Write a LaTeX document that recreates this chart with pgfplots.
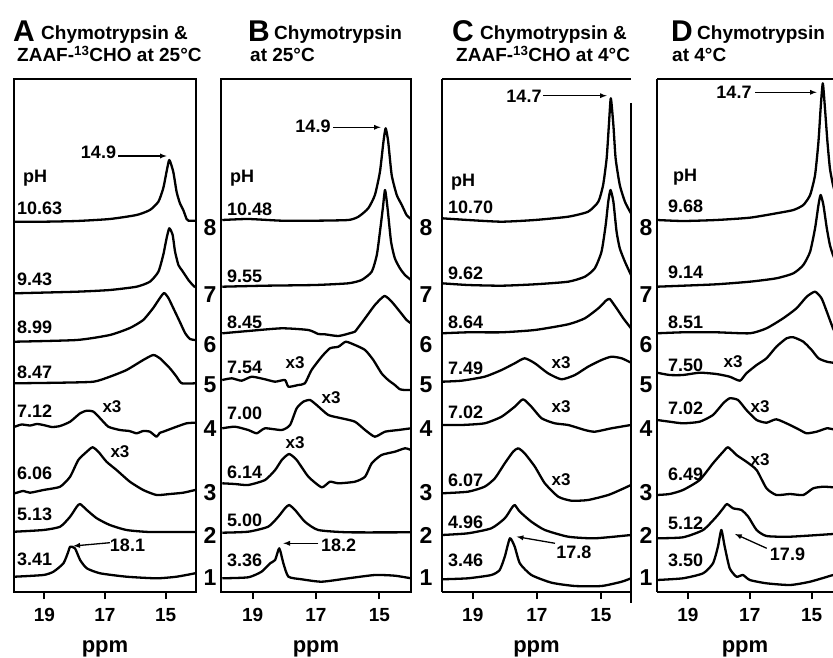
\documentclass[border=0pt]{standalone}
\usepackage{fontspec}
\setmainfont{Liberation Sans}
\usepackage{pgfplots}
\pgfplotsset{compat=1.18}

\newcommand\fs[1]{\fontsize{#1}{#1}\selectfont\bfseries}

\pgfplotsset{
  nmr/.style={
    scale only axis, height=513pt,
    x dir=reverse, y dir=reverse,
    ymin=79, ymax=592, ytick=\empty,
    xtick={15,17,19}, xtick pos=left, xtick align=outside,
    major tick length=7pt,
    axis line style={line width=2pt},
    every tick/.style={black, line width=2pt},
    xticklabel style={font=\fs{19}, yshift=-6pt},
    /pgf/number format/assume math mode=true,
    xlabel={ppm}, xlabel style={font=\fs{22}, yshift=-12pt},
  },
  tr/.style={black, line width=2.3pt, line join=round, smooth, tension=0.35},
}

\begin{document}
\begin{tikzpicture}[x=1pt,y=1pt]
\useasboundingbox (0,0) rectangle (833,658);

% ---------------- A ----------------
\begin{axis}[nmr, at={(14pt,66pt)}, anchor=south west, width=182pt, xmin=14, xmax=20]
\addplot[tr] coordinates {(19.97,221.7)(19.03,221.7)(17.93,221)(16.84,219)(15.96,215)(15.52,210)(15.24,201.7)(15.08,188.3)(14.97,171.7)(14.88,160)(14.75,171.7)(14.64,191.7)(14.53,203.3)(14.42,210)(14.31,219)(14.25,220.7)(14.03,220.7)};
\addplot[tr] coordinates {(19.97,293.3)(17.93,291.7)(16.84,290)(15.96,286.7)(15.52,281.7)(15.24,271.7)(15.08,255)(14.97,238.3)(14.88,228.3)(14.77,235)(14.69,251.7)(14.58,265)(14.47,270)(14.36,275)(14.25,280)(14.11,285)(14.03,287.3)};
\addplot[tr] coordinates {(19.97,341.7)(17.93,340)(16.84,335)(16.18,328)(15.74,320)(15.41,308)(15.19,298)(15.05,293)(14.91,298)(14.75,308)(14.53,322)(14.36,333)(14.20,339)(14.03,340)};
\addplot[tr] coordinates {(19.97,383.3)(18.48,382.7)(17.38,381.7)(16.84,376.7)(16.29,370)(15.74,360)(15.41,355)(15.19,358.3)(14.86,368.3)(14.64,376.7)(14.47,383.3)(14.03,383.3)};
\addplot[tr] coordinates {(19.97,426.7)(19.75,424.5)(19.47,425.5)(19.25,424)(19.03,425)(18.75,427)(18.48,426)(18.15,421.7)(17.82,413.3)(17.60,410.7)(17.38,411.7)(17.16,418.3)(16.89,426.7)(16.51,430)(16.2,431)(15.96,433.3)(15.74,431)(15.52,431.7)(15.30,436.7)(15.2,433)(15.08,431.7)(14.64,426.7)(14.31,423.3)(14.03,422.7)};
\addplot[tr] coordinates {(19.97,493.3)(19.7,491)(19.47,492.7)(19.03,490)(18.48,486.7)(18.15,476.7)(17.88,460)(17.60,451.7)(17.41,447.3)(17.22,451.7)(16.95,461.7)(16.62,470)(16.18,481.7)(15.74,490)(15.30,495)(14.86,494)(14.42,492.7)(14.03,490)};
\addplot[tr] coordinates {(19.97,531.7)(19.03,530)(18.48,526.7)(18.15,516.7)(17.93,506.7)(17.82,504)(17.60,510)(17.27,518.3)(16.84,525)(16.29,530)(15.52,532)(14.03,532)};
\addplot[tr] coordinates {(19.97,576.7)(19.03,575)(18.70,571.7)(18.37,563.3)(18.21,551.7)(18.15,546.7)(17.99,548.3)(17.82,560)(17.60,568.3)(17.16,573.3)(16.29,576.7)(15.30,578.3)(14.64,576.7)(14.03,573.3)};
\end{axis}

% ---------------- B ----------------
\begin{axis}[nmr, at={(221pt,66pt)}, anchor=south west, width=190pt, xmin=14, xmax=20]
\addplot[tr] coordinates {(19.96,220)(19.14,219)(18.08,220.7)(17.03,220.7)(15.98,220)(15.66,216.7)(15.35,208.3)(15.14,195)(14.98,171.7)(14.87,141.7)(14.80,128.3)(14.72,141.7)(14.61,175)(14.45,195)(14.29,205)(14.14,215)(14.00,219)};
\addplot[tr] coordinates {(19.96,286.7)(18.61,285.7)(17.03,285)(15.98,283.3)(15.56,280)(15.24,271.7)(15.08,255)(14.98,231.7)(14.89,208.3)(14.82,190)(14.74,208.3)(14.63,241.7)(14.51,258.3)(14.35,268.3)(14.19,275)(14.00,280)};
\addplot[tr] coordinates {(19.96,333.3)(19.14,331)(18.08,328.3)(17.24,330)(16.93,334)(16.72,334.3)(16.29,336)(15.87,332.7)(15.77,331.7)(15.45,318.3)(15.14,305)(14.84,296)(14.61,301.7)(14.35,311.7)(14.14,320)(14.00,323.3)};
\addplot[tr] coordinates {(19.96,380)(19.66,378.3)(19.35,380.7)(19.03,376.7)(18.61,379.3)(18.29,381.7)(17.98,380)(17.87,386.7)(17.56,385)(17.35,383.3)(17.14,370)(16.82,356.7)(16.56,348.3)(16.29,346.7)(16.06,341.7)(15.77,345)(15.45,350)(15.19,360)(14.93,373.3)(14.72,380)(14.51,385)(14.35,389.3)(14.19,390)(14.00,390)};
\addplot[tr] coordinates {(19.96,428.3)(19.56,426.7)(19.14,430)(18.87,433.3)(18.61,428.3)(18.08,430)(17.82,425)(17.61,408.3)(17.40,401.7)(17.19,400)(16.98,405)(16.61,415)(16.19,418.3)(15.77,421.7)(15.45,430)(15.14,436.7)(14.82,431.7)(14.40,430)(14.00,428.3)};
\addplot[tr] coordinates {(19.96,483.3)(19.56,484)(19.14,485)(18.61,480)(18.29,470)(18.08,460)(17.85,454)(17.61,460)(17.24,476.7)(16.82,487.3)(16.56,481.7)(16.29,483.3)(15.77,481.7)(15.45,476.7)(15.24,463.3)(14.93,455)(14.51,451.7)(14.19,448.3)(14.00,450)};
\addplot[tr] coordinates {(19.96,532.7)(19.14,531.7)(18.51,526.7)(18.19,516.7)(17.98,508.3)(17.85,505)(17.66,510)(17.35,521.7)(16.93,530)(15.98,532.3)(14.00,532.3)};
\addplot[tr] coordinates {(19.96,578.3)(19.14,577.3)(18.72,571.7)(18.45,563.3)(18.29,560)(18.16,548.3)(18.03,563.3)(17.87,576.7)(17.45,579.3)(16.82,581.7)(15.98,578.3)(15.14,575)(14.51,575.7)(14.00,578.3)};
\end{axis}

% ---------------- C ----------------
\begin{axis}[nmr, axis y line*=left, at={(442pt,66pt)}, anchor=south west, width=189pt, xmin=14.06, xmax=19.96]
\addplot[tr] coordinates {(19.96,218.3)(19.15,220)(18.10,221.7)(17.06,220)(16.02,216.7)(15.40,211.7)(15.08,201.7)(14.93,185)(14.82,158.3)(14.75,125)(14.69,98.3)(14.61,125)(14.54,158.3)(14.41,185)(14.25,201.7)(14.09,211.7)(14.06,213.3)};
\addplot[tr] coordinates {(19.96,283.3)(19.15,285)(18.10,285.7)(17.06,284.3)(16.02,281.7)(15.50,276.7)(15.19,268.3)(14.98,251.7)(14.85,225)(14.77,201.7)(14.70,190)(14.61,201.7)(14.51,231.7)(14.41,248.3)(14.25,261.7)(14.06,275)};
\addplot[tr] coordinates {(19.96,333.3)(19.15,332.3)(18.10,332.3)(17.06,330)(16.02,324.3)(15.50,318.3)(15.08,308.3)(14.82,300)(14.72,299)(14.67,301)(14.51,308.3)(14.30,318.3)(14.06,328.3)};
\addplot[tr] coordinates {(19.96,381.7)(19.35,380.7)(18.63,376.7)(18.10,370)(17.69,363.3)(17.38,358.3)(17.06,363.3)(16.65,373.3)(16.23,379.3)(15.81,375)(15.40,366.7)(14.98,360)(14.67,356.7)(14.35,358.3)(14.06,362.7)};
\addplot[tr] coordinates {(19.96,425)(19.35,425)(18.63,423.3)(18.10,416.7)(17.69,406.7)(17.43,399.3)(17.17,406.7)(16.85,418.3)(16.44,423.3)(16.02,425)(15.50,430)(15.19,431.7)(14.67,428.3)(14.06,425)};
\addplot[tr] coordinates {(19.96,493.3)(19.15,491.7)(18.63,486.7)(18.31,478.3)(18.00,463.3)(17.74,451.7)(17.58,448.3)(17.38,453.3)(17.06,466.7)(16.75,483.3)(16.33,496.7)(15.92,500.7)(15.40,500)(14.77,495)(14.35,489.3)(14.06,485)};
\addplot[tr] coordinates {(19.96,535)(19.15,533.3)(18.42,528.3)(18.00,518.3)(17.79,508.3)(17.69,505)(17.53,511.7)(17.17,521.7)(16.75,530)(16.02,536.7)(15.19,538.3)(14.06,535)};
\addplot[tr] coordinates {(19.96,579.3)(19.15,578.3)(18.42,575)(18.16,570)(18.00,556.7)(17.84,538.3)(17.69,546.7)(17.53,563.3)(17.17,575)(16.54,582.7)(15.81,586)(14.98,586)(14.35,581.7)(14.06,578.3)};
\end{axis}
\draw[line width=2pt] (631,555) -- (631,55);

% ---------------- D ----------------
\begin{axis}[nmr, axis y line*=left, at={(657pt,66pt)}, anchor=south west, width=176pt, xmin=14.31, xmax=20]
\addplot[tr] coordinates {(20.0,220)(19.16,221)(18.08,220)(17.00,217.7)(16.14,213.3)(15.59,210)(15.27,205)(15.05,195)(14.89,175)(14.78,141.7)(14.71,108.3)(14.64,83.3)(14.57,108.3)(14.49,141.7)(14.41,168.3)(14.31,185)(14.2,197)};
\addplot[tr] coordinates {(20.0,286.7)(19.16,285.7)(18.08,284.3)(17.00,281.7)(16.14,278.3)(15.59,273.3)(15.27,265)(15.05,251.7)(14.89,228.3)(14.78,205)(14.71,195)(14.62,205)(14.51,228.3)(14.41,245)(14.31,255)(14.2,262)};
\addplot[tr] coordinates {(20.0,333.3)(19.16,332.3)(18.08,332.3)(17.00,333.3)(16.46,328.3)(15.92,318.3)(15.49,308.3)(15.16,296.7)(14.89,291.7)(14.68,298.3)(14.51,311.7)(14.31,328.3)(14.2,335)};
\addplot[tr] coordinates {(20.0,372.7)(19.59,375)(19.16,375)(18.62,372.7)(18.08,374)(17.65,376.7)(17.32,380.7)(17.11,373.3)(16.78,365)(16.46,358.3)(16.14,346.7)(15.81,338.3)(15.59,337.3)(15.27,341.7)(15.00,350)(14.78,358.3)(14.51,361.7)(14.31,362.7)};
\addplot[tr] coordinates {(20.0,420)(19.59,421.7)(19.16,423.3)(18.62,421.7)(18.19,415)(17.86,403.3)(17.65,398.3)(17.38,400)(17.11,410)(16.78,420)(16.46,422.7)(16.14,419.3)(15.70,425)(15.38,430)(15.16,433.3)(14.84,431.7)(14.51,428.3)(14.31,429.3)};
\addplot[tr] coordinates {(20.0,495)(19.59,494)(19.16,490)(18.62,480)(18.19,463.3)(17.86,451.7)(17.70,447.3)(17.43,455)(17.11,461.7)(16.78,470)(16.46,488.3)(16.14,495)(15.70,494)(15.27,495)(14.95,488.3)(14.62,486.7)(14.31,487.3)};
\addplot[tr] coordinates {(20.0,538.3)(19.16,537.3)(18.51,530)(18.08,516.7)(17.86,508.3)(17.74,504)(17.54,508.3)(17.27,510)(17.05,516.7)(16.78,530)(16.46,536)(15.70,536.7)(14.31,534)};
\addplot[tr] coordinates {(20.0,580)(19.16,578.3)(18.51,573.3)(18.19,563.3)(18.03,546.7)(17.92,530)(17.81,546.7)(17.65,568.3)(17.43,576.7)(17.22,575)(17.00,580)(16.46,583.3)(15.70,585)(15.05,581.7)(14.31,575)};
\end{axis}

% ---------------- titles ----------------
\begin{scope}[every node/.style={inner sep=0pt, anchor=base west}]
\node[font=\fs{30}] at (13,616) {A};
\node[font=\fs{19}] at (41,618) {Chymotrypsin \&};
\node[font=\fs{19}] at (17,596) {ZAAF-\textsuperscript{13}CHO at 25°C};
\node[font=\fs{30}] at (248,616) {B};
\node[font=\fs{19}] at (274,618) {Chymotrypsin};
\node[font=\fs{19}] at (250,596) {at 25°C};
\node[font=\fs{30}] at (452,616) {C};
\node[font=\fs{19}] at (480,618) {Chymotrypsin \&};
\node[font=\fs{19}] at (456,596) {ZAAF-\textsuperscript{13}CHO at 4°C};
\node[font=\fs{30}] at (671,616) {D};
\node[font=\fs{19}] at (697,618) {Chymotrypsin};
\node[font=\fs{19}] at (672,596) {at 4°C};
\end{scope}

% ---------------- pH labels ----------------
\begin{scope}[every node/.style={inner sep=0pt, anchor=west, font=\fs{18}}]
\node at (23,480) {pH};
\node at (17,450) {10.63}; \node at (17,379) {9.43}; \node at (17,331) {8.99}; \node at (17,286) {8.47};
\node at (17,247) {7.12}; \node at (17,185) {6.06}; \node at (17,144) {5.13}; \node at (17,99) {3.41};
\node at (230,480) {pH};
\node at (227,449) {10.48}; \node at (227,382) {9.55}; \node at (227,336) {8.45}; \node at (227,291) {7.54};
\node at (227,245) {7.00}; \node at (227,186) {6.14}; \node at (227,138) {5.00}; \node at (227,98) {3.36};
\node at (451,476) {pH};
\node at (448,451) {10.70}; \node at (448,385) {9.62}; \node at (448,336) {8.64}; \node at (448,290) {7.49};
\node at (448,246) {7.02}; \node at (448,178) {6.07}; \node at (448,136) {4.96}; \node at (448,98) {3.46};
\node at (673,481) {pH};
\node at (668,452) {9.68}; \node at (668,386) {9.14}; \node at (668,336) {8.51}; \node at (668,293) {7.50};
\node at (668,250) {7.02}; \node at (668,184) {6.49}; \node at (668,135) {5.12}; \node at (668,98) {3.50};
\end{scope}

% ---------------- x3 ----------------
\begin{scope}[every node/.style={inner sep=0pt, font=\fs{17}}]
\node at (112,251) {x3}; \node at (120,206) {x3};
\node at (295,295) {x3}; \node at (331,260) {x3}; \node at (295,215) {x3};
\node at (561,295) {x3}; \node at (561,251) {x3}; \node at (561,178) {x3};
\node at (733,296) {x3}; \node at (760,251) {x3}; \node at (760,198) {x3};
\end{scope}

% ---------------- trace numbers ----------------
\foreach \xx in {210,426,646}{
  \foreach \n/\yy in {8/430,7/363,6/313,5/273,4/229,3/165,2/123,1/80}{
    \node[inner sep=0pt, font=\fs{23}] at (\xx,\yy) {\n};
  }
}

% ---------------- peak labels ----------------
\begin{scope}[every node/.style={inner sep=0pt, font=\fs{18}}, arr/.style={-latex, line width=1.3pt}]
\node at (98.5,505.5) {14.9}; \draw[arr] (118.3,502) -- (166.7,502);
\node at (127.5,113) {18.1};  \draw[arr] (110,115.3) -- (73.3,112);
\node at (313,532) {14.9};    \draw[arr] (333.3,530.7) -- (380.7,530.7);
\node at (338.7,112.5) {18.2}; \draw[arr] (318.3,114.7) -- (283.3,114.7);
\node at (524,561.3) {14.7};  \draw[arr] (543.3,562.3) -- (606.7,562.3);
\node at (573.8,105.8) {17.8}; \draw[arr] (555,114.7) -- (516.7,121.3);
\node at (734,566) {14.7};    \draw[arr] (755,565.7) -- (816.7,565.7);
\node at (787.5,104) {17.9};  \draw[arr] (766.7,109.7) -- (735,124);
\end{scope}
\end{tikzpicture}
\end{document}
